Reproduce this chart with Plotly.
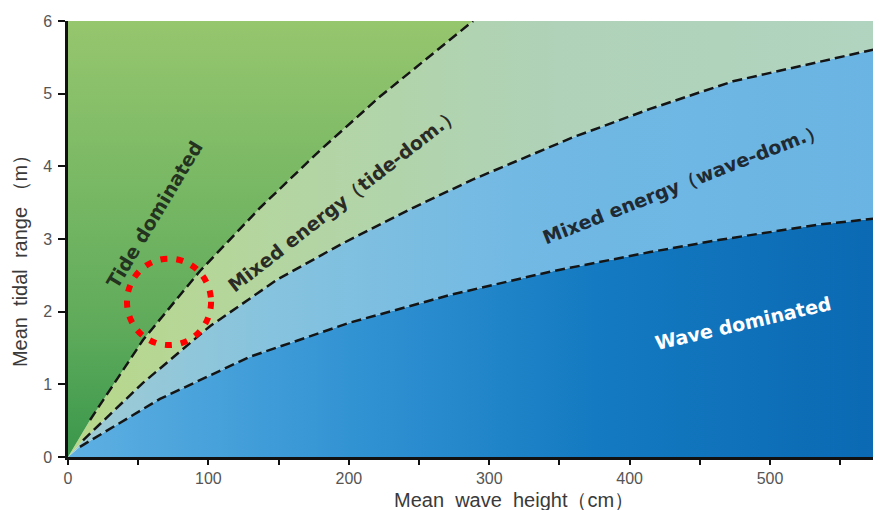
import plotly.graph_objects as go

# ---- data ----
X_MAX = 579   # mean wave height axis limit (cm)
Y_MAX = 6     # mean tidal range axis limit (m)

# boundary: Tide dominated | Mixed energy (tide-dom.)
b1_x = [0, 15.7, 53.4, 94.0, 136.8, 179.5, 222.2, 288.5]
b1_y = [0, 0.51, 1.61, 2.56, 3.43, 4.22, 4.96, 6.0]

# boundary: Mixed energy (tide-dom.) | Mixed energy (wave-dom.)
b2_x = [0, 10.7, 53.4, 101.1, 148.9, 193.7, 245.7, 288.5, 359.7, 414.5, 473.6, 579.0]
b2_y = [0, 0.23, 1.02, 1.80, 2.44, 2.92, 3.43, 3.82, 4.40, 4.79, 5.17, 5.63]

# boundary: Mixed energy (wave-dom.) | Wave dominated
b3_x = [0, 8.5, 65.5, 129.6, 200.9, 272.1, 343.3, 414.5, 464.4, 535.6, 579.0]
b3_y = [0, 0.14, 0.80, 1.38, 1.85, 2.23, 2.55, 2.82, 2.99, 3.20, 3.29]

x_ticks = [0, 100, 200, 300, 400, 500]
y_ticks = [0, 1, 2, 3, 4, 5, 6]

region_labels = ["Tide dominated", "Mixed energy（tide-dom.）",
                 "Mixed energy（wave-dom.）", "Wave dominated"]

fig = go.Figure()

# ---- filled regions ----
fig.add_trace(go.Scatter(
    x=b3_x + [X_MAX, 0], y=b3_y + [0, 0], mode="none", fill="toself",
    fillcolor="#1f7fc4",
    fillgradient=dict(type="horizontal", start=0, stop=X_MAX,
                      colorscale=[[0, "#5eb0e2"], [0.35, "#3293d3"],
                                  [0.65, "#147ac1"], [1, "#0a69b2"]]),
    hoverinfo="skip", showlegend=False))

fig.add_trace(go.Scatter(
    x=b2_x + b3_x[::-1], y=b2_y + b3_y[::-1], mode="none", fill="toself",
    fillcolor="#72b9e3",
    fillgradient=dict(type="horizontal", start=0, stop=X_MAX,
                      colorscale=[[0, "#a0ccd4"], [0.25, "#86c3de"],
                                  [0.55, "#72b9e4"], [1, "#6ab4e3"]]),
    hoverinfo="skip", showlegend=False))

fig.add_trace(go.Scatter(
    x=b1_x + [X_MAX] + b2_x[::-1], y=b1_y + [Y_MAX] + b2_y[::-1],
    mode="none", fill="toself", fillcolor="#b0d2b4",
    fillgradient=dict(type="horizontal", start=0, stop=X_MAX,
                      colorscale=[[0, "#b8d88a"], [0.3, "#b3d5a4"],
                                  [0.6, "#afd2b8"], [1, "#b1d4c0"]]),
    hoverinfo="skip", showlegend=False))

fig.add_trace(go.Scatter(
    x=b1_x + [0], y=b1_y + [Y_MAX], mode="none", fill="toself",
    fillcolor="#80ba68",
    fillgradient=dict(type="vertical", start=0, stop=Y_MAX,
                      colorscale=[[0, "#3a974c"], [0.3, "#5fab5b"],
                                  [0.65, "#7bb965"], [1, "#96c66e"]]),
    hoverinfo="skip", showlegend=False))

# ---- dashed boundaries ----
for bx, by in [(b1_x, b1_y), (b2_x, b2_y), (b3_x, b3_y)]:
    fig.add_trace(go.Scatter(
        x=bx[1:], y=by[1:], mode="lines",
        line=dict(color="#151515", width=2.5, dash="10px,5px"),
        hoverinfo="skip", showlegend=False))

# ---- region labels ----
LAB_FAMILY = "DejaVu Sans, Verdana, sans-serif"
fig.add_annotation(x=61.3, y=3.33, text="<b>" + region_labels[0] + "</b>", textangle=-59,
                   showarrow=False, font=dict(family=LAB_FAMILY, size=19, color="#23331f"))
fig.add_annotation(x=196.5, y=3.55, text="<b>" + region_labels[1] + "</b>", textangle=-38,
                   showarrow=False, font=dict(family=LAB_FAMILY, size=19, color="#2b2b26"))
fig.add_annotation(x=438.5, y=3.77, text="<b>" + region_labels[2] + "</b>", textangle=-21.5,
                   showarrow=False, font=dict(family=LAB_FAMILY, size=19, color="#1f2a33"))
fig.add_annotation(x=480.8, y=1.85, text="<b>" + region_labels[3] + "</b>", textangle=-13,
                   showarrow=False, font=dict(family=LAB_FAMILY, size=19, color="#ffffff"))

# ---- red dotted highlight circle ----
fig.add_shape(type="circle", xref="x", yref="y", x0=42.0, x1=101.9, y0=1.54, y1=2.73,
              line=dict(color="#ff0000", width=6, dash="7px,9px"))

# ---- axis titles ----
title_font = dict(family="Liberation Sans, Arial, sans-serif", size=20, color="#3a3a3a")
fig.add_annotation(xref="paper", yref="paper", x=0.549, y=-0.098,
                   xanchor="center", yanchor="middle",
                   text="Mean\u00a0 wave\u00a0 height（cm）", showarrow=False, font=title_font)
fig.add_annotation(xref="paper", yref="paper", x=-0.059, y=0.461, textangle=-90,
                   xanchor="center", yanchor="middle",
                   text="Mean\u00a0 tidal\u00a0 range\u00a0（m）", showarrow=False, font=title_font)

tick_font = dict(family="Liberation Sans, Arial, sans-serif", size=16, color="#555555")
fig.update_xaxes(range=[0, X_MAX], tickvals=x_ticks, ticks="outside", ticklen=5,
                 tickwidth=2, tickcolor="#111", showline=True, linecolor="#111",
                 linewidth=2.5, showgrid=False, zeroline=False, tickfont=tick_font,
                 ticklabelstandoff=0,
                 minor=dict(dtick=50, tick0=0, ticks="outside", ticklen=5,
                            tickwidth=2, tickcolor="#111", showgrid=False))
fig.update_yaxes(range=[0, Y_MAX], tickvals=y_ticks, ticks="outside", ticklen=7,
                 tickwidth=2, tickcolor="#111", showline=True, linecolor="#111",
                 linewidth=2.5, showgrid=False, zeroline=False, tickfont=tick_font,
                 ticklabelstandoff=3)

# page body has an 8px margin: figure 873x502 puts the plot area at x 68..881, y 21..457
fig.update_layout(width=873, height=502, margin=dict(l=60, r=0, t=13, b=53),
                  plot_bgcolor="white", paper_bgcolor="white")

fig.write_html("out.html")
